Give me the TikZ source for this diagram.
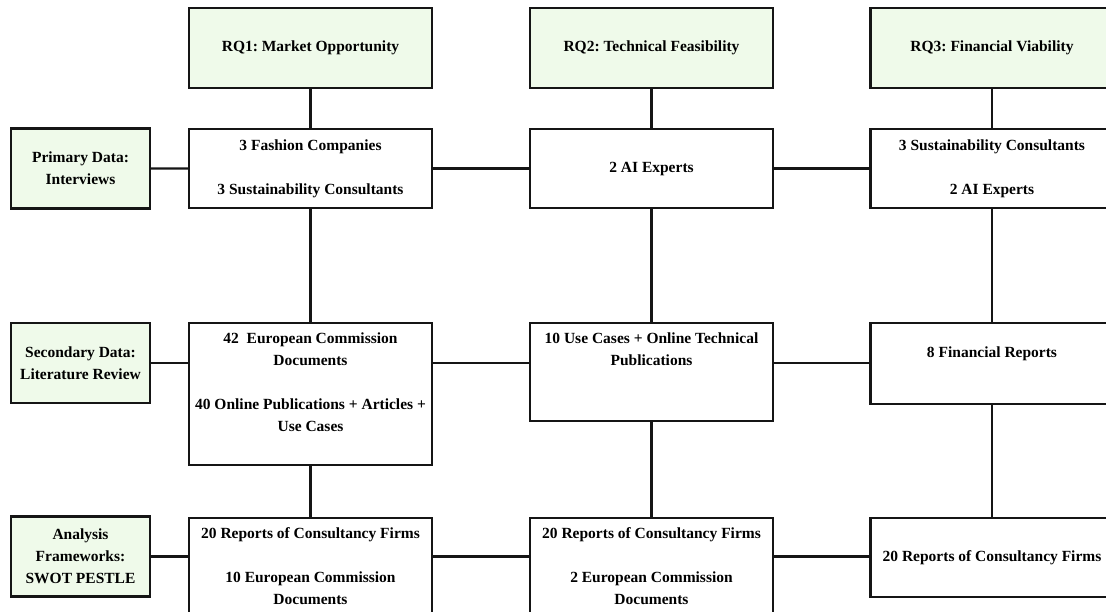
\documentclass[tikz,border=0pt]{standalone}
\usepackage{fontspec}
\setmainfont{Liberation Serif}
\usepackage{xcolor}
\usetikzlibrary{positioning,calc}
\definecolor{RQ}{HTML}{EFFAEA}
\definecolor{LN}{HTML}{151515}
\frenchspacing

\begin{document}
\begin{tikzpicture}[x=1pt, y=-1pt,
    box/.style={draw=LN, line width=2.3pt, align=center,
      inner xsep=5pt, inner ysep=8pt,
      font=\fontsize{15.5}{22}\selectfont\bfseries},
    rqbox/.style={box, fill=RQ, minimum width=243pt, minimum height=80pt},
    srcbox/.style={box, fill=RQ, minimum width=139pt, minimum height=80pt},
    databox/.style={box, fill=white, minimum width=243pt, minimum height=79pt, anchor=north},
    topbox/.style 2 args={text height=#1, text depth=#2},
    link/.style={draw=LN, line width=2.3pt}]
  \useasboundingbox (0,0) rectangle (1106,612);
  \clip (0,0) rectangle (1106,612);

  % research questions
  \node[rqbox] (rq1) at (310.5,48) {RQ1: Market Opportunity};
  \node[rqbox] (rq2) at (651.5,48) {RQ2: Technical Feasibility};
  \node[rqbox] (rq3) at (992,48) {RQ3: Financial Viability};

  % kinds of data
  \node[srcbox] (prim) at (80.5,168.5) {Primary Data:\\Interviews};
  \node[srcbox] (sec) at (80.5,363) {Secondary Data:\\Literature Review};
  \node[srcbox] (ana) at (80.5,556.5) {Analysis\\Frameworks:\\SWOT PESTLE};

  % interviews
  \node[databox] (p1) at (310.5,128) {3 Fashion Companies\\[22pt]3 Sustainability Consultants};
  \node[databox] (p2) at (651.5,128) {2 AI Experts};
  \node[databox] (p3) at (992,128) {3 Sustainability Consultants\\[22pt]2 AI Experts};

  % literature
  \node[databox, topbox={100.5pt}{25.5pt}] (s1) at (310.5,322)
    {42\ \ European Commission\\Documents\\[22pt]40 Online Publications + Articles +\\Use Cases};
  \node[databox, topbox={34.5pt}{47.5pt}] (s2) at (651.5,322)
    {10 Use Cases + Online Technical\\Publications};
  \node[databox, topbox={26pt}{39pt}] (s3) at (992,322) {8 Financial Reports};

  % frameworks
  \node[databox, topbox={78.5pt}{35.5pt}] (a1) at (310.5,517)
    {20 Reports of Consultancy Firms\\[22pt]10 European Commission\\Documents};
  \node[databox, topbox={78.5pt}{35.5pt}] (a2) at (651.5,517)
    {20 Reports of Consultancy Firms\\[22pt]2 European Commission\\Documents};
  \node[databox] (a3) at (992,517) {20 Reports of Consultancy Firms};

  % columns
  \foreach \c in {1,2,3} {
    \draw[link] (rq\c) -- (p\c);
    \draw[link] (p\c) -- (s\c);
    \draw[link] (s\c) -- (a\c);
  }

  % rows
  \draw[link] (prim) -- (p1);
  \draw[link] (p1) -- (p2);
  \draw[link] (p2) -- (p3);
  \draw[link] (sec.east) -- (sec.east -| s1.west);
  \draw[link] (s1.east |- sec.east) -- (s2.west |- sec.east);
  \draw[link] (s2.east |- sec.east) -- (s3.west |- sec.east);
  \draw[link] (ana.east) -- (ana.east -| a1.west);
  \draw[link] (a1.east |- ana.east) -- (a2.west |- ana.east);
  \draw[link] (a2.east |- ana.east) -- (a3.west |- ana.east);
\end{tikzpicture}
\end{document}
